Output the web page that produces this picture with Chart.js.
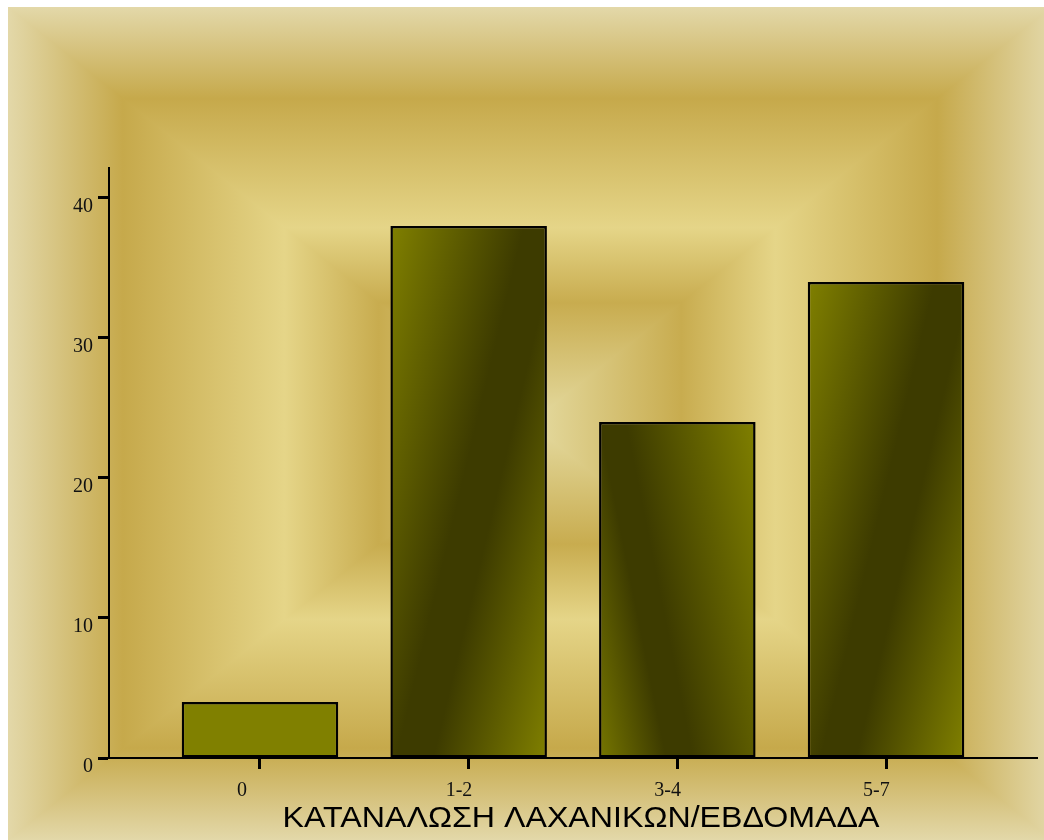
<!DOCTYPE html>
<html>
<head>
<meta charset="utf-8">
<script src="https://cdn.jsdelivr.net/npm/chart.js@4.4.0/dist/chart.umd.min.js"></script>
<style>
  html, body { margin: 0; padding: 0; background: #fff; }
  canvas { display: block; }
</style>
</head>
<body>
<canvas id="barChart" width="1044" height="840"></canvas>
<script>
const categories = ['0', '1-2', '3-4', '5-7'];
const counts = [4, 38, 24, 34];
const yTicks = [0, 10, 20, 30, 40];
const axisTitle = 'ΚΑΤΑΝΑΛΩΣΗ ΛΑΧΑΝΙΚΩΝ/ΕΒΔΟΜΑΔΑ';

// shading per bar: plain, dark band leaning right, dark band leaning left
const barShade = ['flat', 'rise', 'fall', 'rise'];

const OLIVE = '#808000';
const DARK = '#3d3b00';
const BAR_PCT = 0.75;

// gold "picture frame" background, t = 0 centre .. 1 outer edge
const frameStops = [
    [0, '#e5dba1'],
    [0.29, '#c8ac4f'],
    [0.47, '#e5d588'],
    [0.78, '#c6a94b'],
    [1, '#e3d8a9']
];

const backdrop = {
    id: 'backdrop',
    beforeDraw(chart) {
        const ctx = chart.ctx;
        const x0 = 8, y0 = 7, x1 = 1052, y1 = 840;
        const cx = (x0 + x1) / 2, cy = (y0 + y1) / 2;
        ctx.save();
        ctx.fillStyle = '#ffffff';
        ctx.fillRect(0, 0, chart.width, chart.height);
        ctx.beginPath();
        ctx.rect(x0, y0, x1 - x0, y1 - y0);
        ctx.clip();
        const sides = [
            [[x0, y0], [x1, y0], [cx, y0]],
            [[x1, y0], [x1, y1], [x1, cy]],
            [[x1, y1], [x0, y1], [cx, y1]],
            [[x0, y1], [x0, y0], [x0, cy]]
        ];
        sides.forEach(([a, b, m]) => {
            const g = ctx.createLinearGradient(m[0], m[1], cx, cy);
            frameStops.forEach(([t, c]) => g.addColorStop(1 - t, c));
            ctx.beginPath();
            ctx.moveTo(a[0], a[1]);
            ctx.lineTo(b[0], b[1]);
            ctx.lineTo(cx, cy);
            ctx.closePath();
            ctx.fillStyle = g;
            ctx.strokeStyle = g;
            ctx.lineWidth = 1.5;
            ctx.fill();
            ctx.stroke();
        });
        ctx.restore();
    }
};

function barFill(context) {
    if (context.type !== 'data') return OLIVE;
    const i = context.dataIndex;
    const shade = barShade[i];
    const chart = context.chart;
    if (shade === 'flat' || !chart.chartArea) return OLIVE;
    const { x, y } = chart.scales;
    const half = (x.getPixelForValue(1) - x.getPixelForValue(0)) * BAR_PCT / 2;
    const mid = x.getPixelForValue(i);
    const left = mid - half;
    const top = y.getPixelForValue(counts[i]);
    const bottom = y.getPixelForValue(0);
    const w = 2 * half, h = bottom - top;
    const ctx = chart.ctx;
    let g;
    if (shade === 'rise') {
        const s = 0.24, k = (w + s * h) / (1 + s * s);
        g = ctx.createLinearGradient(left, top, left + k, top + s * k);
        g.addColorStop(0, OLIVE);
        g.addColorStop(0.47, DARK);
        g.addColorStop(0.6, DARK);
        g.addColorStop(1, OLIVE);
    } else {
        const s = 0.2, k = (w + s * h) / (1 + s * s);
        g = ctx.createLinearGradient(left, bottom, left + k, bottom - s * k);
        g.addColorStop(0, '#767600');
        g.addColorStop(0.3, DARK);
        g.addColorStop(0.42, DARK);
        g.addColorStop(1, OLIVE);
    }
    return g;
}

// tick labels and axis title, set the way the original slide had them
const axisText = {
    id: 'axisText',
    afterDraw(chart) {
        const { ctx, scales: { x, y } } = chart;
        ctx.save();
        ctx.fillStyle = '#111111';
        ctx.font = '20px "Liberation Serif", "Times New Roman", serif';
        ctx.textBaseline = 'alphabetic';
        ctx.textAlign = 'right';
        yTicks.forEach(v => ctx.fillText(String(v), x.left - 16, y.getPixelForValue(v) + 14));
        ctx.textAlign = 'left';
        categories.forEach((c, i) => ctx.fillText(c, x.getPixelForValue(i) - 23, 796));
        ctx.font = '30px "Liberation Sans", Arial, sans-serif';
        const tw = ctx.measureText(axisTitle).width;
        ctx.translate(581, 827);
        ctx.scale(597 / tw, 1);
        ctx.textAlign = 'center';
        ctx.fillStyle = '#000000';
        ctx.fillText(axisTitle, 0, 0);
        ctx.restore();
    }
};

const ctx = document.getElementById('barChart').getContext('2d');
const chart = new Chart(ctx, {
    type: 'bar',
    data: {
        datasets: [{
            data: counts.map((v, i) => ({ x: i, y: v })),
            backgroundColor: barFill,
            borderColor: '#000000',
            borderWidth: 2.5,
            borderSkipped: false,
            categoryPercentage: 1,
            barPercentage: BAR_PCT
        }]
    },
    options: {
        responsive: false,
        animation: false,
        layout: { padding: { top: 168, right: 7, left: 0, bottom: 0 } },
        plugins: {
            legend: { display: false },
            tooltip: { enabled: false }
        },
        scales: {
            x: {
                type: 'linear',
                offset: false,
                min: -0.7235,
                max: 3.7235,
                ticks: { display: false, stepSize: 1, includeBounds: false },
                grid: {
                    offset: false,
                    drawOnChartArea: false,
                    drawTicks: true,
                    tickLength: 11,
                    tickWidth: 3,
                    tickColor: '#000000'
                },
                border: { display: true, color: '#000000', width: 2 },
                afterFit(scale) { scale.height = 82; }
            },
            y: {
                min: 0,
                max: 42.14,
                ticks: { display: false, stepSize: 10, includeBounds: false },
                grid: {
                    drawOnChartArea: false,
                    drawTicks: true,
                    tickLength: 11,
                    tickWidth: 3,
                    tickColor: '#000000'
                },
                border: { display: true, color: '#000000', width: 2 },
                afterFit(scale) { scale.width = 109; }
            }
        }
    },
    plugins: [backdrop, axisText]
});
</script>
</body>
</html>
